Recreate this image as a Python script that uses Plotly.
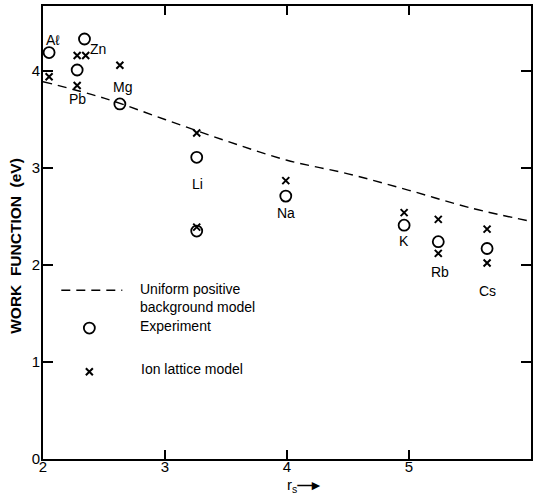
import plotly.graph_objects as go

# ---------------- data ----------------
exp_rs = [2.05, 2.34, 2.28, 2.63, 3.26, 3.26, 3.99, 4.96, 5.24, 5.64]
exp_wf = [4.19, 4.33, 4.01, 3.66, 3.11, 2.35, 2.71, 2.41, 2.24, 2.17]

ion_rs = [2.05, 2.28, 2.35, 2.28, 2.63, 3.26, 3.26, 3.99, 4.96, 5.24, 5.24, 5.64, 5.64]
ion_wf = [3.94, 4.16, 4.16, 3.85, 4.06, 3.36, 2.39, 2.87, 2.54, 2.47, 2.12, 2.37, 2.02]

jellium_rs = [2.0, 2.5, 3.0, 3.5, 4.0, 4.5, 5.0, 5.5, 6.0]
jellium_wf = [3.89, 3.72, 3.50, 3.28, 3.08, 2.94, 2.77, 2.59, 2.45]

elem_names = ["A\u2113", "Zn", "Pb", "Mg", "Li", "Na", "K", "Rb", "Cs"]
elem_x = [2.08, 2.45, 2.28, 2.65, 3.27, 3.99, 4.96, 5.25, 5.64]
elem_y = [4.32, 4.23, 3.71, 3.84, 2.84, 2.54, 2.25, 1.93, 1.73]

x_ticks = [2, 3, 4, 5, 6]
y_ticks = [0, 1, 2, 3, 4]

legend_texts = ["Uniform positive<br>background model", "Experiment", "Ion lattice model"]

FONT = "Liberation Sans"

fig = go.Figure()

fig.add_trace(go.Scatter(
    x=jellium_rs, y=jellium_wf, mode="lines",
    line=dict(color="black", width=1.4, dash="9px,6px", shape="spline"),
    showlegend=False, hoverinfo="skip"))

fig.add_trace(go.Scatter(
    x=exp_rs, y=exp_wf, mode="markers",
    marker=dict(symbol="circle-open", size=11, color="black", line=dict(width=1.8, color="black")),
    showlegend=False))

fig.add_trace(go.Scatter(
    x=ion_rs, y=ion_wf, mode="markers",
    marker=dict(symbol="x-thin-open", size=7, color="black", line=dict(width=2, color="black")),
    showlegend=False))

# hand-drawn style legend inside the plot
fig.add_trace(go.Scatter(
    x=[2.15, 2.65], y=[1.74, 1.74], mode="lines",
    line=dict(color="black", width=1.4, dash="9px,6px"),
    showlegend=False, hoverinfo="skip"))
fig.add_trace(go.Scatter(
    x=[2.38], y=[1.35], mode="markers",
    marker=dict(symbol="circle-open", size=11, color="black", line=dict(width=1.8, color="black")),
    showlegend=False, hoverinfo="skip"))
fig.add_trace(go.Scatter(
    x=[2.38], y=[0.90], mode="markers",
    marker=dict(symbol="x-thin-open", size=7, color="black", line=dict(width=2, color="black")),
    showlegend=False, hoverinfo="skip"))

legend_pos = [(2.78, 1.66), (2.78, 1.37), (2.79, 0.93)]
for txt, (lx, ly) in zip(legend_texts, legend_pos):
    fig.add_annotation(x=lx, y=ly, text=txt, showarrow=False, xanchor="left", yanchor="middle",
                       align="left", font=dict(family=FONT, size=14, color="black"))

for name, lx, ly in zip(elem_names, elem_x, elem_y):
    fig.add_annotation(x=lx, y=ly, text=name, showarrow=False, xanchor="center", yanchor="middle",
                       font=dict(family=FONT, size=14, color="black"))

# axis titles
fig.add_annotation(xref="paper", yref="paper", x=0.535, y=-0.033,
                   text="r<sub>s</sub><b>\u2014\u25B8</b>",
                   showarrow=False, xanchor="center", yanchor="top",
                   font=dict(family=FONT, size=15, color="black"))
fig.add_annotation(xref="paper", yref="paper", x=-0.058, y=0.47,
                   text="<b>WORK  FUNCTION  (eV)</b>", textangle=-90,
                   showarrow=False, xanchor="center", yanchor="middle",
                   font=dict(family=FONT, size=15.5, color="black"))

fig.update_layout(
    width=534, height=494,
    margin=dict(l=43, r=3, t=6, b=35),
    paper_bgcolor="white", plot_bgcolor="white",
    font=dict(family=FONT, size=14, color="black"),
    showlegend=False,
)
fig.update_xaxes(range=[2, 6], tickvals=x_ticks, ticktext=[str(v) for v in x_ticks],
                 ticks="inside", ticklen=9, tickwidth=1.8, tickcolor="black",
                 showline=True, linecolor="black", linewidth=2, mirror="ticks",
                 showgrid=False, zeroline=False, tickfont=dict(family=FONT, size=15),
                 ticklabelstandoff=-7, automargin=False)
fig.update_yaxes(range=[0, 4.67], tickvals=y_ticks, ticktext=[str(v) for v in y_ticks],
                 ticks="inside", ticklen=10, tickwidth=1.8, tickcolor="black",
                 showline=True, linecolor="black", linewidth=2, mirror="ticks",
                 showgrid=False, zeroline=False, tickfont=dict(family=FONT, size=15),
                 ticklabelstandoff=-2, automargin=False)

fig.write_html("out.html", config={"displayModeBar": False},
               post_script="document.body.style.margin='0';document.body.style.overflow='hidden';")
